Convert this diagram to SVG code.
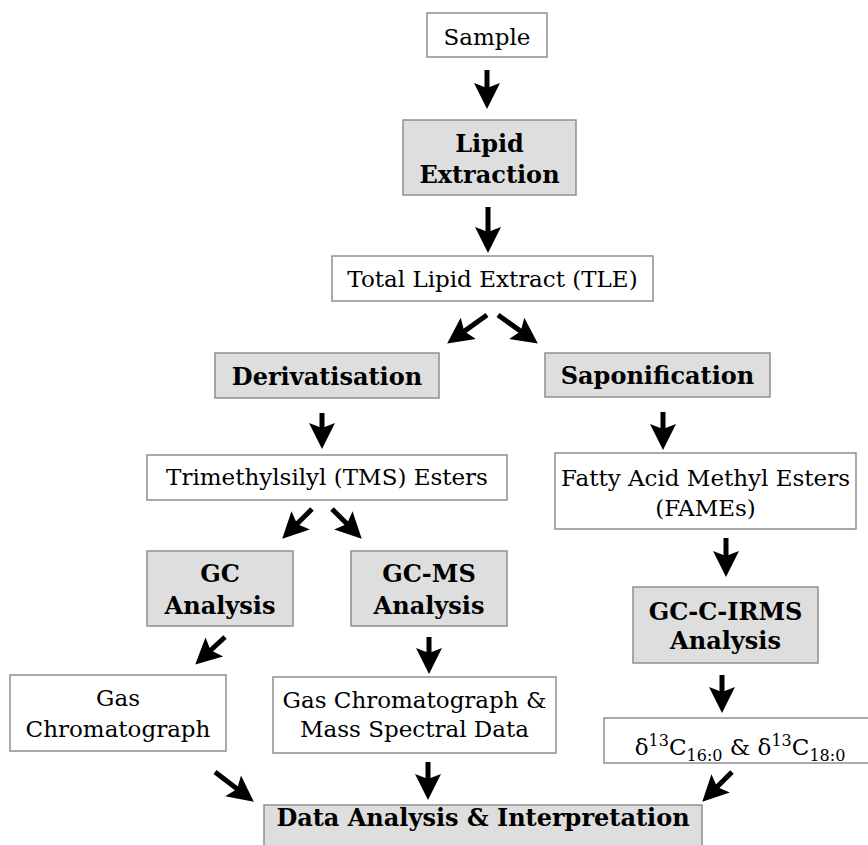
<svg xmlns="http://www.w3.org/2000/svg" width="868" height="845" viewBox="0 0 868 845">
  <style>
    .box { fill: #ffffff; stroke: #8e8e8e; stroke-width: 1.5; }
    .step { fill: #dedede; stroke: #8e8e8e; stroke-width: 1.5; }
    .t { font-family: "DejaVu Serif", "Liberation Serif", serif; font-size: 23px; fill: #000; text-anchor: middle; }
    .b { font-family: "DejaVu Serif", "Liberation Serif", serif; font-size: 24px; font-weight: bold; fill: #000; text-anchor: middle; }
    .arrow { stroke: #000; stroke-width: 5; fill: none; marker-end: url(#ah); }
  </style>
  <defs>
    <marker id="ah" markerUnits="userSpaceOnUse" markerWidth="30" markerHeight="30" viewBox="-28 -15 30 30" refX="-20" refY="0" orient="auto" overflow="visible">
      <path d="M0,0 L-26,-13 L-21,0 L-26,13 Z" fill="#000"/>
    </marker>
  </defs>

  <rect width="868" height="845" fill="#ffffff"/>

  <!-- process nodes -->
  <g id="sample">
    <rect class="box" x="427" y="13" width="120" height="44"/>
    <text class="t" x="487" y="45">Sample</text>
  </g>
  <g id="lipid-extraction">
    <rect class="step" x="403" y="120" width="173" height="75"/>
    <text class="b" x="489.5" y="152">Lipid</text>
    <text class="b" x="489.5" y="183">Extraction</text>
  </g>
  <g id="tle">
    <rect class="box" x="332" y="256" width="321" height="45"/>
    <text class="t" x="492.5" y="287">Total Lipid Extract (TLE)</text>
  </g>
  <g id="derivatisation">
    <rect class="step" x="215" y="353" width="224" height="45"/>
    <text class="b" x="327" y="385">Derivatisation</text>
  </g>
  <g id="saponification">
    <rect class="step" x="545" y="353" width="225" height="44"/>
    <text class="b" x="657.5" y="384">Saponification</text>
  </g>
  <g id="tms-esters">
    <rect class="box" x="147" y="455" width="360" height="45"/>
    <text class="t" x="327" y="485">Trimethylsilyl (TMS) Esters</text>
  </g>
  <g id="fames">
    <rect class="box" x="555" y="453" width="301" height="76"/>
    <text class="t" x="705.5" y="486">Fatty Acid Methyl Esters</text>
    <text class="t" x="705.5" y="516">(FAMEs)</text>
  </g>
  <g id="gc-analysis">
    <rect class="step" x="147" y="551" width="146" height="75"/>
    <text class="b" x="220" y="582">GC</text>
    <text class="b" x="220" y="614">Analysis</text>
  </g>
  <g id="gcms-analysis">
    <rect class="step" x="351" y="551" width="156" height="75"/>
    <text class="b" x="429" y="582">GC-MS</text>
    <text class="b" x="429" y="614">Analysis</text>
  </g>
  <g id="gcc-irms-analysis">
    <rect class="step" x="633" y="587" width="185" height="76"/>
    <text class="b" x="725.5" y="620">GC-C-IRMS</text>
    <text class="b" x="725.5" y="649">Analysis</text>
  </g>
  <g id="gas-chromatograph">
    <rect class="box" x="10" y="675" width="216" height="76"/>
    <text class="t" x="118" y="706">Gas</text>
    <text class="t" x="118" y="737">Chromatograph</text>
  </g>
  <g id="gcms-data">
    <rect class="box" x="273" y="677" width="283" height="76"/>
    <text class="t" x="414.5" y="708">Gas Chromatograph &amp;</text>
    <text class="t" x="414.5" y="737">Mass Spectral Data</text>
  </g>
  <g id="isotope-values">
    <rect class="box" x="604" y="718" width="268" height="45"/>
    <text class="t" x="740" y="755">δ<tspan font-size="16" dy="-9">13</tspan><tspan dy="9">C</tspan><tspan font-size="16" dy="6">16:0</tspan><tspan dy="-6"> &amp; δ</tspan><tspan font-size="16" dy="-9">13</tspan><tspan dy="9">C</tspan><tspan font-size="16" dy="6">18:0</tspan></text>
  </g>
  <g id="data-analysis">
    <rect class="step" x="264" y="805" width="438" height="50"/>
    <text class="b" x="483" y="826" font-size="23">Data Analysis &amp; Interpretation</text>
  </g>

  <!-- connectors -->
  <g id="connectors">
    <line class="arrow" x1="487" y1="70" x2="487" y2="89"/>
    <line class="arrow" x1="488" y1="207" x2="488" y2="233"/>
    <line class="arrow" x1="487" y1="315" x2="463.4" y2="331.9"/>
    <line class="arrow" x1="498" y1="315" x2="521.6" y2="331.9"/>
    <line class="arrow" x1="322" y1="413" x2="322" y2="429"/>
    <line class="arrow" x1="312" y1="509" x2="296.4" y2="524.6"/>
    <line class="arrow" x1="332" y1="509" x2="347.6" y2="524.6"/>
    <line class="arrow" x1="663" y1="412" x2="663" y2="430"/>
    <line class="arrow" x1="726" y1="538" x2="726" y2="557"/>
    <line class="arrow" x1="225" y1="637" x2="209.9" y2="651"/>
    <line class="arrow" x1="429" y1="637" x2="429" y2="654"/>
    <line class="arrow" x1="722" y1="675" x2="722" y2="693"/>
    <line class="arrow" x1="215" y1="772" x2="237.9" y2="789.5"/>
    <line class="arrow" x1="428" y1="762" x2="428" y2="780"/>
    <line class="arrow" x1="732" y1="772" x2="716.4" y2="787.6"/>
  </g>
</svg>
